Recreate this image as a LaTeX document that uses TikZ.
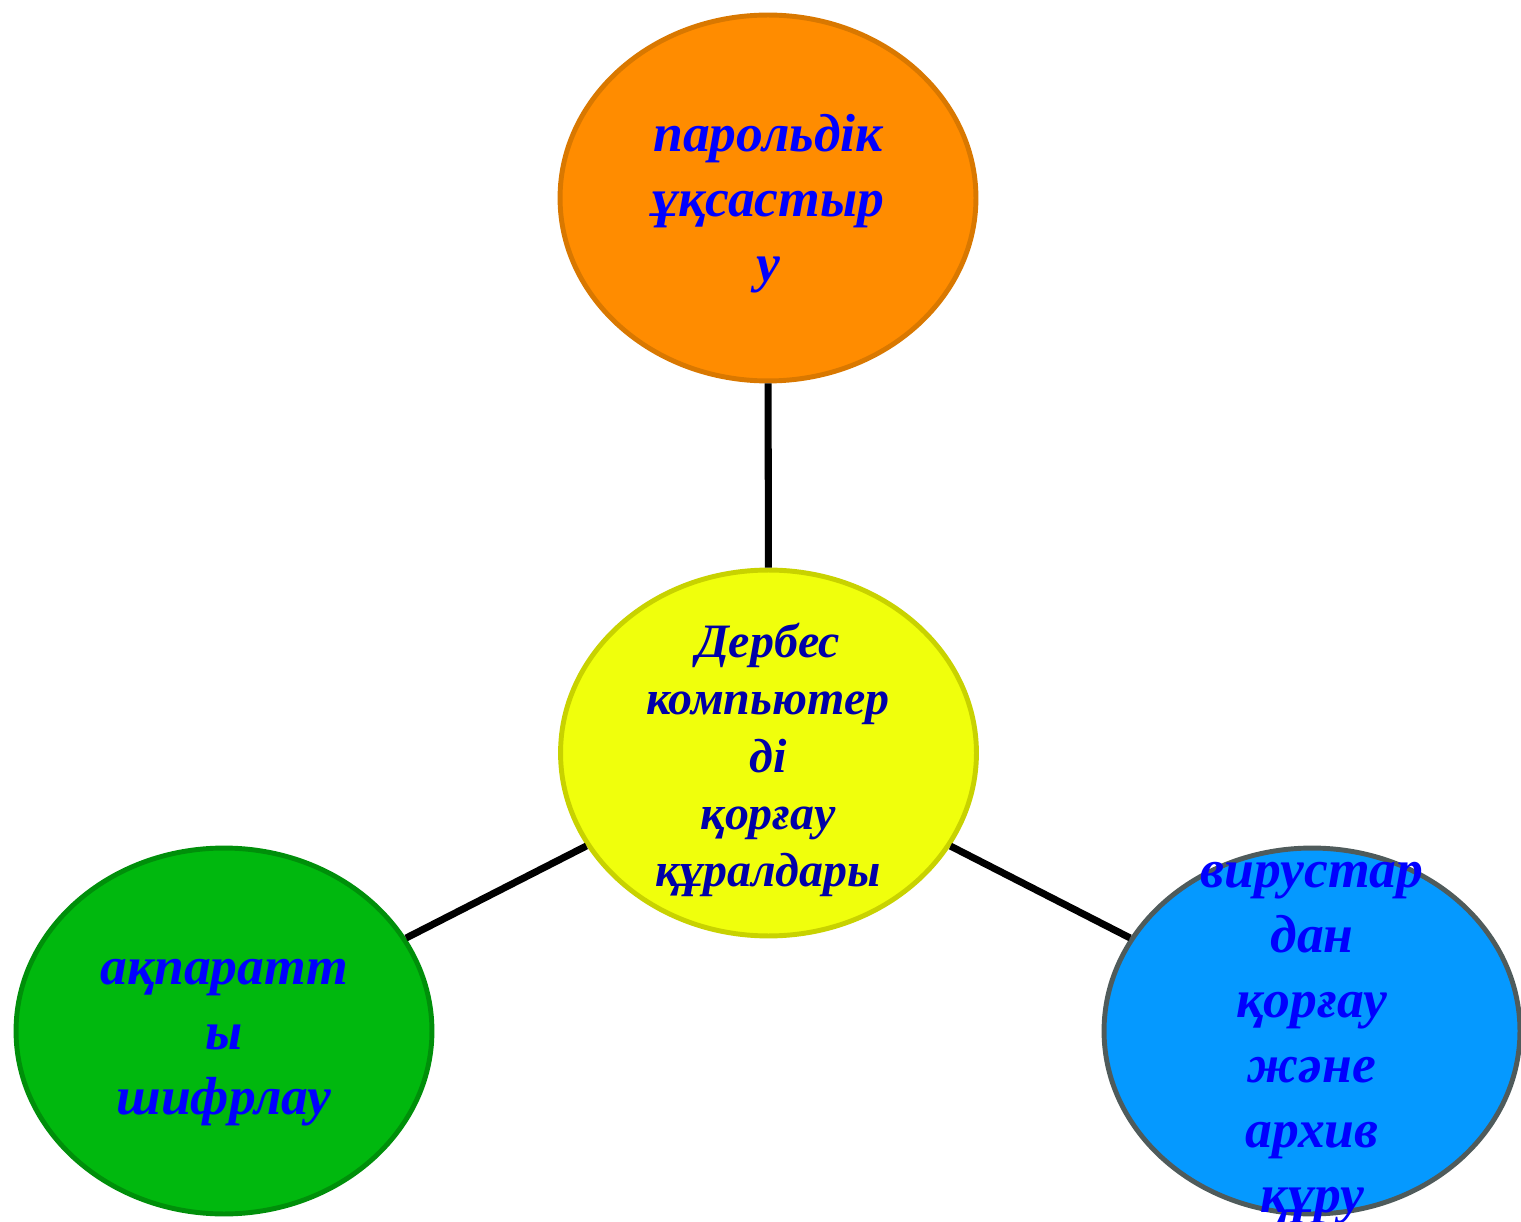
\documentclass[tikz,border=0pt]{standalone}
\usepackage{fontspec}
\setmainfont{Liberation Serif}
\usetikzlibrary{shapes.geometric}

\definecolor{orangefill}{HTML}{FF8C00}
\definecolor{orangeline}{HTML}{D97800}
\definecolor{yellowfill}{HTML}{F0FF0C}
\definecolor{yellowline}{HTML}{C8D200}
\definecolor{greenfill}{HTML}{00B80E}
\definecolor{greenline}{HTML}{008F0A}
\definecolor{bluefill}{HTML}{0599FF}
\definecolor{blueline}{HTML}{4F5B5B}
\definecolor{navytext}{HTML}{0000A8}

\begin{document}
\begin{tikzpicture}[x=0.02cm,y=-0.02cm]
\tikzset{bubble/.style={ellipse, line width=2.8pt, inner sep=0pt,
    minimum width=8.32cm, minimum height=7.32cm},
  spoke/.style={line width=4pt, black},
  caption/.style={align=center, text=blue, inner sep=0pt,
    font=\bfseries\itshape\fontsize{30.5}{37}\selectfont}}
\useasboundingbox (0,0) rectangle (1521,1222);
% the four bubbles
\node [bubble, draw=orangeline, fill=orangefill] (parol) at (768,198) {};
\node [bubble, draw=yellowline, fill=yellowfill] (pc) at (768.5,753) {};
\node [bubble, draw=greenline, fill=greenfill] (shifr) at (224,1031) {};
\node [bubble, draw=blueline, fill=bluefill] (virus) at (1312,1031) {};
% spokes from the centre
\draw [spoke] (pc) -- (parol);
\draw [spoke] (pc) -- (shifr);
\draw [spoke] (pc) -- (virus);
% texts
\node [caption] (paroltext) at (768,204) {парольдік\\ұқсастыр\\у};
\node [caption, text=navytext, font=\bfseries\itshape\fontsize{27.3}{32.6}\selectfont]
  (pctext) at (768,760) {Дербес\\компьютер\\ді\\қорғау\\құралдары};
\node [caption] (shifrtext) at (224,1043) {ақпаратт\\ы\\шифрлау};
\node [caption] (virustext) at (1312,1043) {вирустар\\дан\\қорғау\\және\\архив\\құру};
\end{tikzpicture}
\end{document}
